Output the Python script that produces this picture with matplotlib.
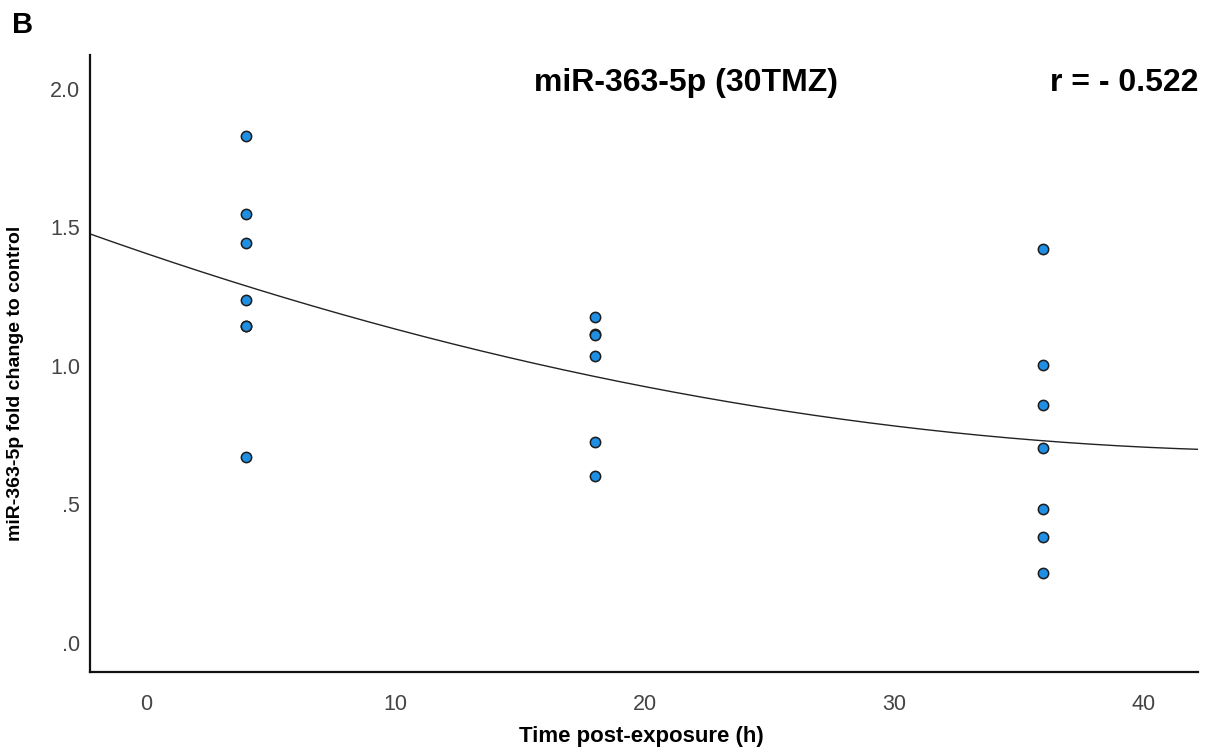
import numpy as np
import matplotlib.pyplot as plt

plt.rcParams['font.family'] = ['Liberation Sans', 'DejaVu Sans']

# fold change values, grouped by time point
time_4h = [4, 4, 4, 4, 4, 4, 4]
fold_4h = [1.83, 1.547, 1.445, 1.237, 1.146, 1.146, 0.673]
time_18h = [18, 18, 18, 18, 18, 18]
fold_18h = [1.178, 1.117, 1.110, 1.036, 0.727, 0.603]
time_36h = [36, 36, 36, 36, 36, 36, 36]
fold_36h = [1.421, 1.004, 0.859, 0.703, 0.483, 0.384, 0.254]

x_ticks = [0, 10, 20, 30, 40]
y_ticks = [0.0, 0.5, 1.0, 1.5, 2.0]
y_ticklabels = ['.0', '.5', '1.0', '1.5', '2.0']

t = np.array(time_4h + time_18h + time_36h, dtype=float)
fc = np.array(fold_4h + fold_18h + fold_36h)

fig = plt.figure(figsize=(12.12, 7.55), dpi=100)
ax = fig.add_axes([0.0743, 0.110, 0.9141, 0.8172])

# quadratic fit line
coef = np.polyfit(t, fc, 2)
xs = np.linspace(-2.25, 42.2, 200)
ax.plot(xs, np.polyval(coef, xs), color='#222222', lw=1.0, zorder=2)

ax.scatter(t, fc, s=55, color='#1E8FE3', edgecolor='#1c1c1c', linewidth=1.1, zorder=3)

ax.set_xlim(-2.25, 42.2)
ax.set_ylim(-0.105, 2.123)
ax.set_xticks(x_ticks)
ax.set_yticks(y_ticks)
ax.set_yticklabels(y_ticklabels)
ax.tick_params(length=0, labelsize=15.5, labelcolor='#444444')
ax.tick_params(axis='y', pad=7)
ax.tick_params(axis='x', pad=16)

for s in ['top', 'right']:
    ax.spines[s].set_visible(False)
for s in ['left', 'bottom']:
    ax.spines[s].set_linewidth(1.6)
    ax.spines[s].set_color('#111111')

ax.set_xlabel('Time post-exposure (h)', fontsize=16, fontweight='bold', va='center')
ax.xaxis.set_label_coords(0.498, -0.105)
ax.set_ylabel('miR-363-5p fold change to control', fontsize=14, fontweight='bold')
ax.yaxis.set_label_coords(-0.0596, 0.468)

ax.text(0.538, 0.955, 'miR-363-5p (30TMZ)', transform=ax.transAxes, ha='center', va='center',
        fontsize=23, fontweight='bold')
ax.text(1.0, 0.955, 'r = - 0.522', transform=ax.transAxes, ha='right', va='center',
        fontsize=23, fontweight='bold')
fig.text(0.0095, 0.967, 'B', fontsize=21, fontweight='bold', va='center')

fig.savefig('out.png', dpi=100)
